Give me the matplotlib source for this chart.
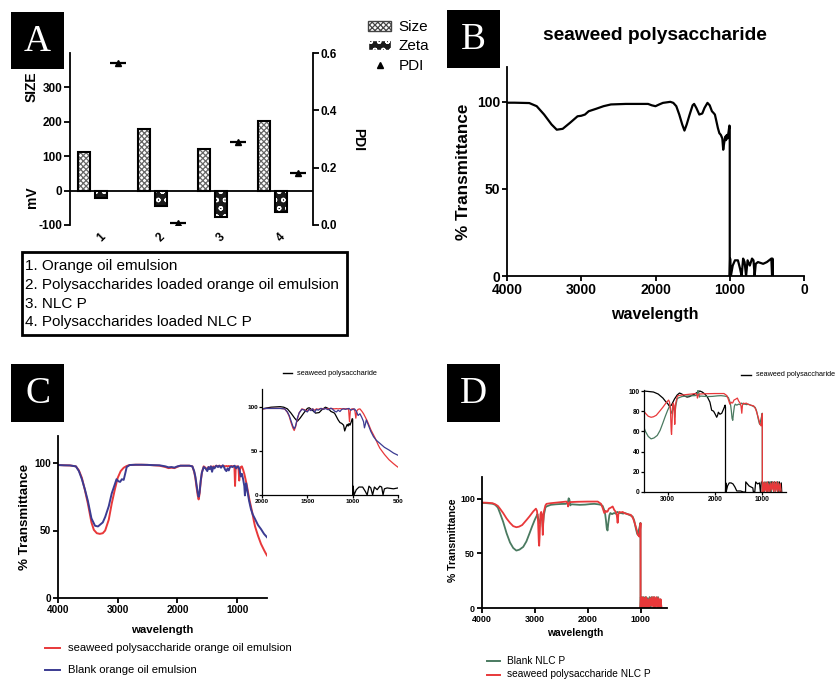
import numpy as np
import matplotlib
matplotlib.use("Agg")
import matplotlib.pyplot as plt
from matplotlib.patches import Rectangle, Patch
from matplotlib.lines import Line2D

plt.rcParams.update({
    "font.family": ["Liberation Sans", "DejaVu Sans"],
    "axes.unicode_minus": False,
    "hatch.linewidth": 0.9,
    "axes.linewidth": 1.3,
    "xtick.major.width": 1.3, "ytick.major.width": 1.3,
    "xtick.direction": "out", "ytick.direction": "out",
})
RED, BLUE, GREEN = "#e8383a", "#3b3b92", "#4a7a60"

# ---------- panel A data ----------
groups = ["1", "2", "3", "4"]
size_vals = [112, 180, 122, 203]
zeta_vals = [-21, -46, -77, -61]
pdi_vals = [0.564, 0.006, 0.289, 0.180]
legend_lines = ["1. Orange oil emulsion",
                "2. Polysaccharides loaded orange oil emulsion",
                "3. NLC P",
                "4. Polysaccharides loaded NLC P"]

# ---------- seaweed polysaccharide spectrum (panel B, inset C) ----------
sp_x = [4000, 3900, 3800, 3700, 3600, 3500, 3400, 3330, 3250, 3150, 3050, 3000, 2950, 2900,
        2800, 2700, 2600, 2400, 2200, 2100, 2050, 2000, 1950, 1900, 1800, 1760, 1720, 1680,
        1640, 1610, 1580, 1540, 1500, 1480, 1450, 1410, 1370, 1340, 1300, 1270, 1240, 1220,
        1200, 1180, 1160, 1140, 1120, 1100, 1088, 1075, 1060, 1050, 1040, 1030, 1015, 1005,
        1000, 1000, 995, 985, 960, 930, 890, 860, 840, 820, 800, 780, 760, 730, 700, 680,
        665, 650, 620, 550, 500, 470, 440, 430, 425, 420]
sp_y = [99.5, 99.5, 99.4, 99.3, 97.5, 92.7, 87, 84, 84.5, 88, 91.7, 92, 92.7, 94.6,
        96, 97.5, 98.5, 98.8, 98.8, 98.8, 98, 97.5, 98.5, 99.4, 100, 99.4, 97.5, 92.7,
        87, 83.5, 87, 92.7, 98, 98.8, 96.5, 92.7, 93.3, 96.5, 99.4, 98, 94.6, 93.7,
        92.7, 88.9, 85, 82, 81, 79, 72.5, 76.4, 80, 78, 81, 79, 83, 86.4,
        86, 0, 10, 0, 6, 9, 9, 4, 0, 10, 8, 0, 9, 6, 10, 9,
        0, 7, 8, 7, 8, 9, 10, 0, 10, 0]

# ---------- panel C: orange oil emulsions ----------
cb_x = [4000, 3900, 3800, 3700, 3650, 3600, 3550, 3500, 3440, 3380, 3330, 3290, 3250, 3210,
        3150, 3100, 3050, 3020, 2990, 2960, 2930, 2900, 2870, 2850, 2800, 2700, 2600, 2500,
        2400, 2300, 2200, 2150, 2100, 2050, 2000, 1950, 1900, 1800, 1750, 1720, 1700, 1680,
        1660, 1645, 1630, 1610, 1590, 1560, 1530, 1500, 1480, 1460, 1440, 1420, 1400, 1380,
        1350, 1320, 1300, 1270, 1240, 1220, 1200, 1180, 1160, 1140, 1120, 1100, 1080, 1060,
        1040, 1020, 1000, 980, 960, 940, 920, 900, 880, 870, 860, 850, 830, 800, 770, 740,
        700, 650, 600, 550, 520, 500]
cb_y = [98.5, 98.3, 98.2, 97.5, 94, 88, 80.5, 72, 59, 53.5, 53, 54.5, 56, 60,
        68, 77.5, 84, 88, 86.5, 86, 88, 87.5, 93, 97, 98.5, 98.7, 98.7, 98.6,
        98.4, 98.3, 97.5, 96.8, 97, 96.6, 97.5, 98, 98, 98, 97.5, 94, 90, 84,
        78, 75, 78, 87, 93, 97, 96, 94, 97, 95.5, 97.5, 93.5, 97, 96,
        98, 97, 98, 96.5, 98.3, 97, 95, 94, 96, 94.5, 97, 97.5, 97, 97.5,
        98, 96, 97, 97.5, 95, 90, 92, 88, 83, 76, 80, 85, 80, 72, 66, 62,
        58.5, 54, 51, 47.5, 46, 45]
cr_x = [4000, 3900, 3800, 3700, 3650, 3600, 3550, 3500, 3440, 3400, 3350, 3300, 3250, 3210,
        3150, 3100, 3050, 3000, 2950, 2900, 2850, 2800, 2700, 2600, 2500, 2400, 2300, 2200,
        2150, 2100, 2050, 2000, 1950, 1900, 1800, 1750, 1720, 1700, 1680, 1660, 1645, 1630,
        1610, 1590, 1560, 1530, 1500, 1480, 1460, 1440, 1420, 1400, 1380, 1350, 1320, 1300,
        1270, 1240, 1220, 1200, 1180, 1160, 1140, 1120, 1100, 1080, 1060, 1045, 1035, 1025,
        1010, 990, 975, 965, 955, 940, 920, 900, 880, 860, 840, 820, 800, 780, 750, 720,
        700, 650, 600, 550, 520, 500]
cr_y = [98.5, 98.3, 98.2, 97.5, 94.5, 89, 80, 70, 56, 50.5, 48, 47.5, 48, 50,
        58, 70, 80, 89, 94, 96.5, 97.8, 98.5, 98.7, 98.7, 98.6, 98.3, 98, 97,
        96.2, 96.5, 96.2, 97.2, 98, 98, 98, 97.5, 93.5, 89, 82, 76, 73, 77,
        86, 93, 97.5, 96.5, 95, 97, 96, 97.5, 96, 97.5, 97, 98, 97.5, 98,
        97.5, 98, 97.8, 97.5, 97.8, 97.5, 97.8, 97.5, 97.8, 97.5, 97.8, 97, 83, 96,
        97.5, 97.5, 95, 87, 95, 97, 97.5, 95, 92, 88, 84, 79, 74, 70, 64, 57,
        53, 46, 40, 35.5, 33, 31.5]

# ---------- panel D: NLC P ----------
dg_x = [4000, 3900, 3800, 3750, 3700, 3660, 3600, 3535, 3470, 3410, 3350, 3290, 3220, 3160,
        3100, 3050, 3000, 2970, 2950, 2930, 2910, 2890, 2870, 2850, 2830, 2800, 2780, 2700,
        2600, 2500, 2420, 2380, 2360, 2345, 2330, 2310, 2250, 2150, 2050, 1950, 1874, 1800,
        1750, 1717, 1690, 1670, 1654, 1640, 1625, 1610, 1590, 1572, 1540, 1500, 1470, 1440,
        1400, 1371, 1330, 1300, 1245, 1200, 1151, 1120, 1090, 1065, 1050, 1040, 1025, 1010,
        1002, 1000, 995, 985, 970, 955, 940, 920, 905, 890, 870, 850, 830, 810, 790, 770,
        750, 730, 710, 690, 670, 650, 630, 610]
dg_y = [96.3, 96, 95.5, 94.5, 92, 87, 79, 68.5, 60, 55, 52.6, 53.5, 56, 61,
        68.5, 75, 81, 84, 86, 80, 77.7, 82, 86, 74, 85, 92, 93, 94.5,
        95, 95.3, 95.4, 96, 100.5, 99, 94, 95, 94.8, 94.5, 94.7, 95.2, 95.4, 95,
        94.5, 93.5, 90, 86, 80, 73, 71, 78, 85, 87, 86, 87, 86.5, 88,
        87, 87, 86.5, 87, 86, 85, 83.8, 80, 73, 68, 67, 70, 73, 76,
        78, 0, 10, 0, 9, 0, 10, 2, 10, 0, 9, 1, 10, 0, 10, 3,
        10, 0, 9, 2, 10, 0, 8, 2]
dr_x = [4000, 3900, 3800, 3750, 3700, 3660, 3600, 3535, 3470, 3410, 3350, 3300, 3240, 3160,
        3100, 3030, 2980, 2960, 2940, 2925, 2918, 2910, 2895, 2880, 2865, 2850, 2840, 2830,
        2800, 2780, 2700, 2600, 2500, 2403, 2380, 2371, 2360, 2340, 2200, 2000, 1900, 1811,
        1780, 1748, 1720, 1700, 1686, 1660, 1640, 1623, 1600, 1560, 1528, 1500, 1470, 1450,
        1434, 1420, 1400, 1370, 1340, 1308, 1250, 1183, 1140, 1100, 1070, 1050, 1025, 1015,
        1005, 1000, 1000, 992, 978, 962, 948, 930, 912, 895, 878, 860, 840, 820, 800, 780,
        760, 740, 720, 700, 680, 660, 640, 620, 605]
dr_y = [96.6, 96.4, 96, 95, 93.5, 91, 87, 82, 78, 75, 74, 74.5, 76, 80.5,
        84, 88.5, 91, 89, 80, 60, 57, 65, 86, 88, 85, 67, 80, 88,
        94, 95.4, 96, 96.5, 97, 97.5, 96, 93, 95, 97, 97.3, 97.5, 97.5, 97.5,
        96.5, 95.4, 92, 89, 87, 89, 88, 88.5, 91, 92, 93, 90, 88, 85,
        78, 86, 88, 87.5, 88, 87, 86, 85.3, 82, 76, 71, 67, 65.4, 68,
        74, 77.7, 0, 8, 0, 10, 1, 9, 0, 10, 0, 8, 0, 9, 2, 10,
        0, 10, 1, 10, 0, 9, 1, 8, 0]
# seaweed polysaccharide trace as it appears in the D inset
dk_x = [3500, 3400, 3300, 3200, 3100, 3050, 3000, 2964, 2920, 2857, 2800, 2750, 2700, 2643,
        2590, 2536, 2480, 2429, 2380, 2321, 2270, 2214, 2160, 2107, 2071, 2030, 1995, 1964,
        1945, 1929, 1895, 1857, 1820, 1786, 1778, 1778, 1772, 1765, 1735, 1700, 1660, 1620,
        1580, 1540, 1460, 1400, 1355, 1350, 1280, 1200, 1190, 1160, 1140, 1100, 1060, 1040,
        1020, 980, 950, 900, 860, 820, 810, 770, 740, 700, 680, 660, 640, 620, 600, 590]
dk_y = [100, 99.5, 99, 97, 93, 90, 87.5, 85, 86, 92, 96, 98, 97, 95,
        94, 94.5, 96, 97, 98.5, 100, 99, 97, 94, 89, 81, 80, 77, 74,
        76, 79, 77, 78, 82, 86, 84, 0, 9, 0, 6, 9, 9, 8,
        5, 1, 1, 0, 0, 10, 6, 4, 0, 0, 10, 8, 9, 0,
        10, 8, 9, 9, 10, 0, 10, 9, 10, 8, 10, 0, 10, 0, 9, 0]

W, H = 838, 680
fig = plt.figure(figsize=(W / 100, H / 100), dpi=100)


def box(x0, y0, x1, y1):
    return [x0 / W, 1 - y1 / H, (x1 - x0) / W, (y1 - y0) / H]


def fx(x):
    return x / W


def fy(y):
    return 1 - y / H


def panel_label(x0, y0, x1, y1, letter):
    fig.add_artist(Rectangle((fx(x0), fy(y1)), (x1 - x0) / W, (y1 - y0) / H,
                             facecolor="black", edgecolor="none", transform=fig.transFigure))
    fig.text(fx((x0 + x1) / 2), fy((y0 + y1) / 2 + 1), letter, color="white",
             family="Liberation Serif", fontsize=27, ha="center", va="center")


def style_spectrum(ax, fs):
    for s in ("top", "right"):
        ax.spines[s].set_visible(False)
    ax.tick_params(labelsize=fs, length=3.5, pad=1.5)
    for lab in ax.get_xticklabels() + ax.get_yticklabels():
        lab.set_fontweight("bold")


# ================= Panel A =================
axA = fig.add_axes(box(70, 53, 313, 225))
x = np.arange(1, 5)
axA.bar(x - 0.283, size_vals, 0.2, color="white", edgecolor="#666666", hatch="xxxxxx", linewidth=0)
axA.bar(x - 0.283, size_vals, 0.2, fill=False, edgecolor="black", linewidth=1.5)
axA.bar(x, zeta_vals, 0.2, color="#1a1a1a", edgecolor="white", hatch="oo", linewidth=0)
axA.bar(x, zeta_vals, 0.2, fill=False, edgecolor="black", linewidth=1.5)
axA.axhline(0, color="black", lw=1.3)
axA.set_xlim(0.48, 4.53)
axA.set_ylim(-100, 400)
axA.set_yticks([-100, 0, 100, 200, 300])
axA.set_xticks(x)
axA.set_xticklabels(groups, rotation=45, fontweight="bold", fontsize=8.5)
axA.tick_params(axis="x", length=0, pad=4)
axA.tick_params(axis="y", labelsize=8.5, length=4, pad=1.5)
for lab in axA.get_yticklabels():
    lab.set_fontweight("bold")
for s in ("top", "right", "bottom"):
    axA.spines[s].set_visible(False)

axR = axA.twinx()
axR.plot(x + 0.283, pdi_vals, ls="none", marker="^", ms=5, color="black")
axR.plot(x + 0.283, pdi_vals, ls="none", marker="_", ms=11, mew=1.6, color="black")
axR.set_ylim(0, 0.6)
axR.set_yticks([0.0, 0.2, 0.4, 0.6])
axR.set_yticklabels(["0.0", "0.2", "0.4", "0.6"], fontweight="bold")
axR.tick_params(axis="y", labelsize=8.5, length=4, pad=1.5)
for s in ("top", "left", "bottom"):
    axR.spines[s].set_visible(False)
axR.spines["right"].set_linewidth(1.3)

fig.text(fx(32), fy(87), "SIZE", rotation=90, fontweight="bold", fontsize=10, ha="center", va="center")
fig.text(fx(32), fy(197), "mV", rotation=90, fontweight="bold", fontsize=10, ha="center", va="center")
fig.text(fx(358), fy(140), "PDI", rotation=270, fontweight="bold", fontsize=10, ha="center", va="center")

handles = [Patch(facecolor="white", edgecolor="#444444", hatch="xxxxxx"),
           Patch(facecolor="#1a1a1a", edgecolor="white", hatch="oo"),
           Line2D([], [], ls="none", marker="^", ms=5, color="black")]
lg = fig.legend(handles, ["Size", "Zeta", "PDI"], loc="upper left",
                bbox_to_anchor=(fx(362), fy(14)), frameon=False, fontsize=11,
                handlelength=1.5, handleheight=0.6, labelspacing=0.35, handletextpad=0.5,
                borderaxespad=0)

fig.add_artist(Rectangle((fx(22), fy(335)), 325 / W, 83 / H, fill=False, lw=2,
                         edgecolor="black", transform=fig.transFigure))
for i, t in enumerate(legend_lines):
    fig.text(fx(25), fy(266 + 18.8 * i), t, fontsize=11, va="center")
panel_label(11, 12, 64, 69, "A")

# ================= Panel B =================
axB = fig.add_axes(box(507, 67, 804, 276))
axB.plot(sp_x, sp_y, color="black", lw=1.6)
axB.set_xlim(4000, 0)
axB.set_ylim(0, 120)
axB.set_xticks([4000, 3000, 2000, 1000, 0])
axB.set_yticks([0, 50, 100])
style_spectrum(axB, 10)
fig.text(fx(655), fy(35), "seaweed polysaccharide", fontweight="bold", fontsize=13.8,
         ha="center", va="center")
fig.text(fx(463), fy(172), "% Transmittance", rotation=90, fontweight="bold", fontsize=12.3,
         ha="center", va="center")
fig.text(fx(655), fy(315), "wavelength", fontweight="bold", fontsize=11.5, ha="center", va="center")
panel_label(447, 10, 500, 68, "B")

# ================= Panel C =================
axC = fig.add_axes(box(58, 436, 267, 598))
axC.plot(cr_x, cr_y, color=RED, lw=1.4)
axC.plot(cb_x, cb_y, color=BLUE, lw=1.4)
axC.set_xlim(4000, 500)
axC.set_ylim(0, 120)
axC.set_xticks([4000, 3000, 2000, 1000])
axC.set_yticks([0, 50, 100])
style_spectrum(axC, 7.2)
fig.text(fx(25), fy(517), "% Transmittance", rotation=90, fontweight="bold", fontsize=9.6,
         ha="center", va="center")
fig.text(fx(162), fy(630), "wavelength", fontweight="bold", fontsize=8.2, ha="center", va="center")
fig.add_artist(Line2D([fx(45), fx(60)], [fy(648), fy(648)], color=RED, lw=1.4, transform=fig.transFigure))
fig.add_artist(Line2D([fx(45), fx(60)], [fy(670), fy(670)], color=BLUE, lw=1.4, transform=fig.transFigure))
fig.text(fx(68), fy(648), "seaweed polysaccharide orange oil emulsion", fontsize=8.1, va="center")
fig.text(fx(68), fy(670), "Blank orange oil emulsion", fontsize=8.1, va="center")

axCi = fig.add_axes(box(262, 389, 398, 495))
axCi.plot(sp_x, sp_y, color="black", lw=0.9)
axCi.plot(cr_x, cr_y, color=RED, lw=0.9)
axCi.plot(cb_x, cb_y, color=BLUE, lw=0.9)
axCi.set_xlim(2000, 500)
axCi.set_ylim(0, 120)
axCi.set_xticks([2000, 1500, 1000, 500])
axCi.set_yticks([0, 50, 100])
style_spectrum(axCi, 4.6)
for s in ("left", "bottom"):
    axCi.spines[s].set_linewidth(0.9)
axCi.tick_params(length=2, width=0.9, pad=1)
fig.add_artist(Line2D([fx(283), fx(292)], [fy(373), fy(373)], color="black", lw=1, transform=fig.transFigure))
fig.text(fx(297), fy(373), "seaweed polysaccharide", fontsize=5.3, va="center")
panel_label(11, 364, 64, 422, "C")

# ================= Panel D =================
axD = fig.add_axes(box(482, 477, 667, 608))
axD.plot(dg_x, dg_y, color=GREEN, lw=1.3)
axD.plot(dr_x, dr_y, color=RED, lw=1.3)
axD.set_xlim(4000, 500)
axD.set_ylim(0, 120)
axD.set_xticks([4000, 3000, 2000, 1000])
axD.set_yticks([0, 50, 100])
style_spectrum(axD, 6.4)
fig.text(fx(453), fy(540), "% Transmittance", rotation=90, fontweight="bold", fontsize=7.6,
         ha="center", va="center")
fig.text(fx(575), fy(633), "wavelength", fontweight="bold", fontsize=7.4, ha="center", va="center")
fig.add_artist(Line2D([fx(487), fx(500)], [fy(661), fy(661)], color=GREEN, lw=1.4, transform=fig.transFigure))
fig.add_artist(Line2D([fx(487), fx(500)], [fy(675), fy(675)], color=RED, lw=1.4, transform=fig.transFigure))
fig.text(fx(507), fy(661), "Blank NLC P", fontsize=7.3, va="center")
fig.text(fx(507), fy(674), "seaweed polysaccharide NLC P", fontsize=7.3, va="center")

axDi = fig.add_axes(box(644, 390, 786, 492))
axDi.plot(dk_x, dk_y, color="black", lw=0.9)
axDi.plot(dg_x, dg_y, color=GREEN, lw=0.9)
axDi.plot(dr_x, dr_y, color=RED, lw=0.9)
axDi.set_xlim(3500, 500)
axDi.set_ylim(0, 101)
axDi.set_xticks([3000, 2000, 1000])
axDi.set_yticks([0, 20, 40, 60, 80, 100])
style_spectrum(axDi, 4.8)
for s in ("left", "bottom"):
    axDi.spines[s].set_linewidth(0.9)
axDi.tick_params(length=2, width=0.9, pad=1)
fig.add_artist(Line2D([fx(741), fx(751)], [fy(375), fy(375)], color="black", lw=1, transform=fig.transFigure))
fig.text(fx(756), fy(375), "seaweed polysaccharide", fontsize=5.2, va="center")
panel_label(447, 364, 500, 422, "D")

fig.savefig("out.png", dpi=100, facecolor="white")
